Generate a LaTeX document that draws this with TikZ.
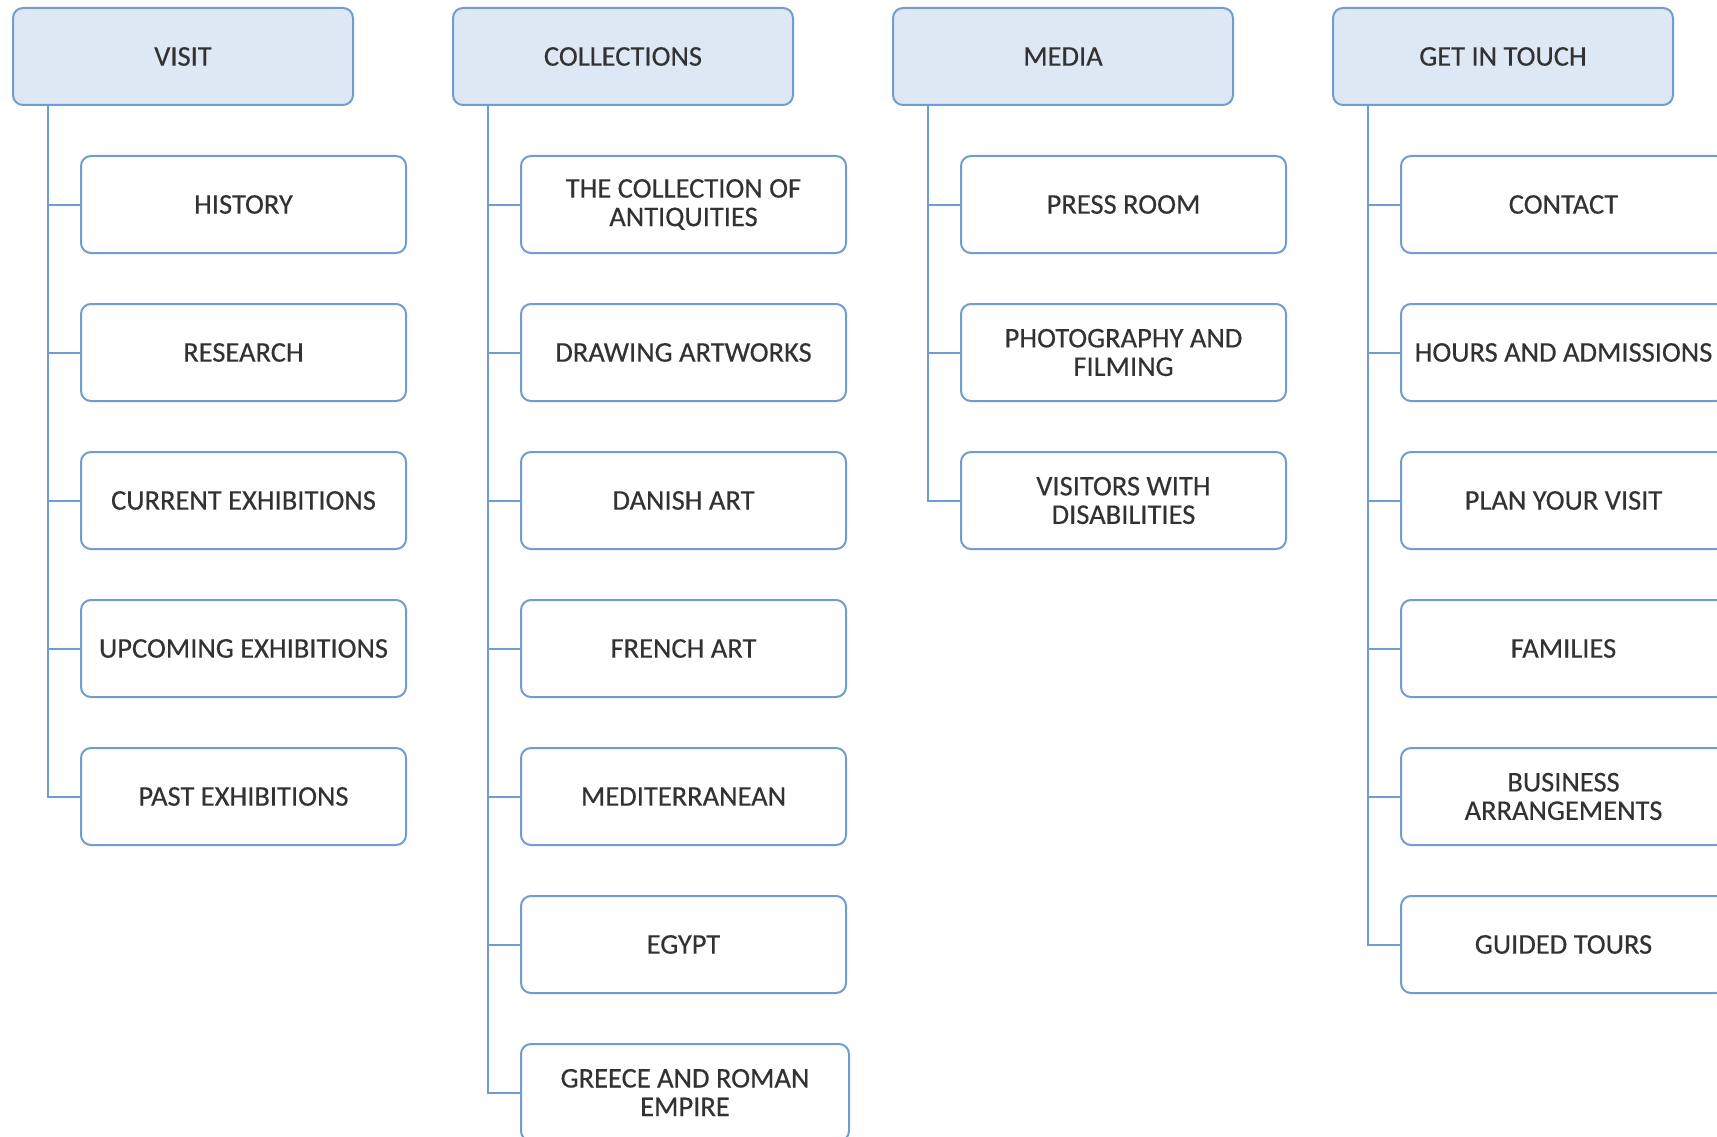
\documentclass[tikz,border=0pt]{standalone}
\usepackage{fontspec}
\setmainfont{Carlito}
\newfontfamily\boxfont{Carlito}[FakeBold=0.35]
\definecolor{edgeblue}{RGB}{112,157,207}
\definecolor{headfill}{RGB}{222,232,245}
\definecolor{txtgray}{RGB}{50,50,50}
\begin{document}
\begin{tikzpicture}[x=1pt,y=-1pt,
 basebox/.style={draw=edgeblue, line width=2pt, rounded corners=10pt, text=txtgray,
   font=\boxfont\fontsize{28.5}{28.5}\selectfont, align=center, inner sep=0pt, anchor=north west},
 headbox/.style={basebox, fill=headfill, minimum width=340pt, minimum height=97pt},
 itembox/.style={basebox, fill=white, minimum width=325pt, minimum height=97pt},
 link/.style={draw=edgeblue, line width=2pt}]
\useasboundingbox (0,0) rectangle (1717,1137);

% heads
\node[headbox] (v) at (12,7) {VISIT};
\node[headbox] (c) at (452,7) {COLLECTIONS};
\node[headbox] (m) at (892,7) {MEDIA};
\node[headbox] (g) at (1332,7) {GET IN TOUCH};

% VISIT
\node[itembox] (v1) at (80,155) {HISTORY};
\node[itembox] (v2) at (80,303) {RESEARCH};
\node[itembox] (v3) at (80,451) {CURRENT EXHIBITIONS};
\node[itembox] (v4) at (80,599) {UPCOMING EXHIBITIONS};
\node[itembox] (v5) at (80,747) {PAST EXHIBITIONS};

% COLLECTIONS
\node[itembox] (c1) at (520,155) {THE COLLECTION OF\\ANTIQUITIES};
\node[itembox] (c2) at (520,303) {DRAWING ARTWORKS};
\node[itembox] (c3) at (520,451) {DANISH ART};
\node[itembox] (c4) at (520,599) {FRENCH ART};
\node[itembox] (c5) at (520,747) {MEDITERRANEAN};
\node[itembox] (c6) at (520,895) {EGYPT};
\node[itembox, minimum width=328pt] (c7) at (520,1043) {GREECE AND ROMAN\\EMPIRE};

% MEDIA
\node[itembox] (m1) at (960,155) {PRESS ROOM};
\node[itembox] (m2) at (960,303) {PHOTOGRAPHY AND\\FILMING};
\node[itembox] (m3) at (960,451) {VISITORS WITH\\DISABILITIES};

% GET IN TOUCH
\node[itembox] (g1) at (1400,155) {CONTACT};
\node[itembox] (g2) at (1400,303) {HOURS AND ADMISSIONS};
\node[itembox] (g3) at (1400,451) {PLAN YOUR VISIT};
\node[itembox] (g4) at (1400,599) {FAMILIES};
\node[itembox] (g5) at (1400,747) {BUSINESS\\ARRANGEMENTS};
\node[itembox] (g6) at (1400,895) {GUIDED TOURS};

% connectors
\foreach \k in {1,...,5} \draw[link] ([xshift=36pt]v.south west) |- (v\k.west);
\foreach \k in {1,...,7} \draw[link] ([xshift=36pt]c.south west) |- (c\k.west);
\foreach \k in {1,...,3} \draw[link] ([xshift=36pt]m.south west) |- (m\k.west);
\foreach \k in {1,...,6} \draw[link] ([xshift=36pt]g.south west) |- (g\k.west);
\end{tikzpicture}
\end{document}
